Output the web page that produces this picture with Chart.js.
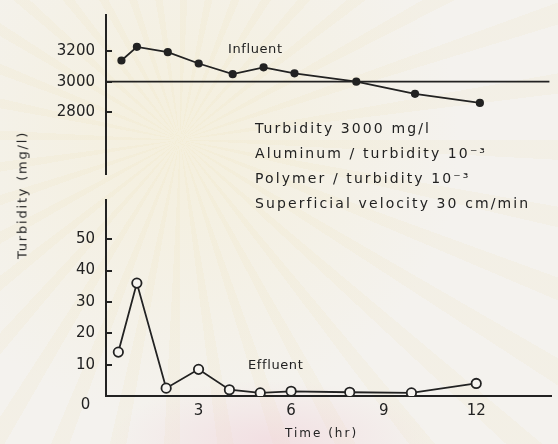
<!DOCTYPE html>
<html>
<head>
<meta charset="utf-8">
<script src="https://cdn.jsdelivr.net/npm/chart.js@4.4.0/dist/chart.umd.min.js"></script>
<style>
body{margin:0;background:#f4f2ee;}
#wrap{
  position:relative;width:558px;height:444px;overflow:hidden;
  font-family:"DejaVu Sans",sans-serif;color:#222;
  background:
    radial-gradient(ellipse 160px 60px at 270px 440px, rgba(240,205,215,0.5), rgba(240,205,215,0) 100%),
    repeating-conic-gradient(from 0deg at 180px 140px, rgba(236,222,175,0.13) 0deg 3deg, rgba(255,255,255,0) 3deg 10deg),
    radial-gradient(circle at 180px 140px, rgba(245,236,200,0.45), rgba(244,242,238,0) 280px),
    #f4f2ee;
}
canvas{position:absolute;left:0;}
#top{top:0;}
#bot{top:190px;}
.note{position:absolute;font-size:13px;white-space:nowrap;letter-spacing:0.6px;line-height:16px;}
.cond{font-size:14px;letter-spacing:2.1px;}
#ytitle{position:absolute;left:22px;top:195px;font-size:13px;white-space:nowrap;
  transform:translate(-50%,-50%) rotate(-90deg);letter-spacing:1.8px;}
#xtitle{position:absolute;left:285px;top:425px;font-size:12px;white-space:nowrap;letter-spacing:2px;line-height:16px;}
</style>
</head>
<body>
<div id="wrap">
  <canvas id="top" width="558" height="180"></canvas>
  <canvas id="bot" width="558" height="254"></canvas>
  <div id="ytitle">Turbidity (mg/l)</div>
  <div id="xtitle">Time (hr)</div>
  <div class="note" style="left:228px;top:41px;">Influent</div>
  <div class="note" style="left:248px;top:357px;">Effluent</div>
  <div class="note cond" style="left:255px;top:120px;">Turbidity 3000 mg/l</div>
  <div class="note cond" style="left:255px;top:145px;">Aluminum / turbidity 10⁻³</div>
  <div class="note cond" style="left:255px;top:170px;">Polymer / turbidity 10⁻³</div>
  <div class="note cond" style="left:255px;top:195px;">Superficial velocity 30 cm/min</div>
</div>
<script>
// time in hours
const influentTime = [0.5, 1, 2, 3, 4.1, 5.1, 6.1, 8.1, 10, 12.1];
const influentTurb = [3140, 3230, 3195, 3120, 3050, 3095, 3055, 3000, 2920, 2860];
const effluentTime = [0.4, 1, 1.95, 3, 4, 5, 6, 7.9, 9.9, 12];
const effluentTurb = [14, 36, 2.5, 8.5, 2, 1, 1.5, 1.2, 1, 4];
const refTime = [0, 14.35];
const refTurb = [3000, 3000];

const upperTicks = [2800, 3000, 3200];
const lowerTicks = [0, 10, 20, 30, 40, 50];
const timeTicks = [3, 6, 9, 12];

const ink = "#222";
const xMax = 14.44;

function pts(xs, ys){ return xs.map((x,i)=>({x:x, y:ys[i]})); }

function noPad(s){ s.paddingTop = 0; s.paddingBottom = 0; s.paddingLeft = 0; s.paddingRight = 0; }

// the "0" of the lower axis sits a little below the x axis in the original
function yLabel(v){ return v === 0 ? ["", "0 "] : String(v); }

function yAxis(min, max, tickVals){
  return {
    position:"left", min:min, max:max,
    afterFit: s=>{ s.width = 106; noPad(s); },
    afterBuildTicks: s=>{ s.ticks = tickVals.map(v=>({value:v})); },
    border:{display:true, color:ink, width:2},
    grid:{drawOnChartArea:false, drawTicks:true, tickLength:-6, color:ink, lineWidth:2},
    ticks:{color:ink, padding:17, font:{family:"DejaVu Sans", size:15}, callback:yLabel}
  };
}

new Chart(document.getElementById("top"), {
  type:"scatter",
  data:{datasets:[
    {data:pts(refTime, refTurb), showLine:true, borderColor:ink, borderWidth:1.8, pointRadius:0},
    {data:pts(influentTime, influentTurb), showLine:true, borderColor:ink, borderWidth:1.8,
     pointRadius:3.2, pointBackgroundColor:ink, pointBorderColor:ink}
  ]},
  options:{
    responsive:false, animation:false,
    layout:{padding:{top:15, bottom:5, left:0, right:0}},
    plugins:{legend:{display:false}, tooltip:{enabled:false}},
    scales:{
      x:{type:"linear", min:0, max:xMax, display:false},
      y:yAxis(2390, 3440, upperTicks)
    }
  }
});

new Chart(document.getElementById("bot"), {
  type:"scatter",
  data:{datasets:[
    {data:pts(effluentTime, effluentTurb), showLine:true, borderColor:ink, borderWidth:1.8,
     pointRadius:4.7, pointBackgroundColor:"#f6f4f0", pointBorderColor:ink, pointBorderWidth:1.8}
  ]},
  options:{
    responsive:false, animation:false,
    layout:{padding:{top:10, bottom:0, left:0, right:0}},
    plugins:{legend:{display:false}, tooltip:{enabled:false}},
    scales:{
      x:{
        type:"linear", min:0, max:xMax,
        afterFit: s=>{ s.height = 48; noPad(s); },
        afterBuildTicks: s=>{ s.ticks = timeTicks.map(v=>({value:v})); },
        border:{display:true, color:ink, width:2},
        grid:{display:false, drawTicks:false},
        ticks:{color:ink, padding:6, font:{family:"DejaVu Sans", size:15}, callback:v=>String(v)}
      },
      y:yAxis(0, 62.5, lowerTicks)
    }
  }
});
</script>
</body>
</html>
